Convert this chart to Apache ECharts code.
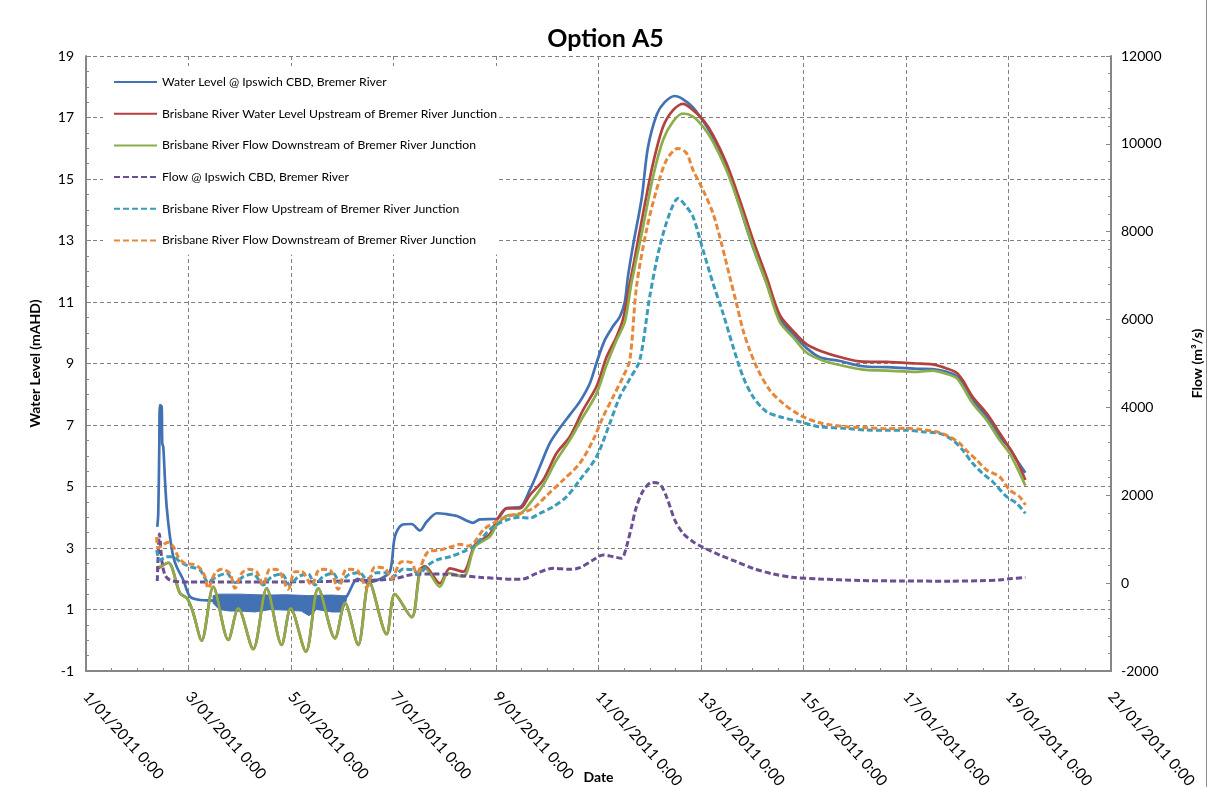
<!DOCTYPE html>
<html>
<head>
<meta charset="utf-8">
<script src="https://cdn.jsdelivr.net/npm/echarts@6/dist/echarts.min.js"></script>
<style>
html,body{margin:0;padding:0;background:#fff;}
#c{width:1211px;height:787px;position:relative;}
#frame{position:absolute;left:1206px;top:0;width:1px;height:787px;background:#8c8c8c;}
</style>
</head>
<body>
<div id="c"></div>
<div id="frame"></div>
<script>
// ---- chart text ----
const chartTitle = 'Option A5';
const xAxisName = 'Date';
const leftAxisName = 'Water Level (mAHD)';
const rightAxisName = 'Flow (m\u00b3/s)';
// x positions are days after 1/01/2011 0:00
const dateLabels = ['1/01/2011 0:00','3/01/2011 0:00','5/01/2011 0:00','7/01/2011 0:00','9/01/2011 0:00','11/01/2011 0:00','13/01/2011 0:00','15/01/2011 0:00','17/01/2011 0:00','19/01/2011 0:00','21/01/2011 0:00'];
const seriesNames = [
  'Water Level @ Ipswich CBD, Bremer River',
  'Brisbane River Water Level Upstream of Bremer River Junction',
  'Brisbane River Flow Downstream of Bremer River Junction',
  'Flow @ Ipswich CBD, Bremer River',
  'Brisbane River Flow Upstream of Bremer River Junction',
  'Brisbane River Flow Downstream of Bremer River Junction '
];

// ---- water levels (mAHD) ----
const ipswichLevel = [[1.391,3.69],[1.410,4.13],[1.430,6.29],[1.443,7.65],[1.476,7.6],[1.488,6.4],[1.508,6.29],[1.541,5.21],[1.574,4.34],[1.638,3.37],[1.703,2.72],[1.769,2.39],[1.898,1.96],[2.028,1.42],[2.224,1.31],[2.483,1.29],[2.7,1.25],[3.0,1.25],[3.5,1.25],[4.0,1.25],[4.5,1.25],[5.0,1.3],[5.085,1.42],[5.305,2.0],[5.475,1.87],[5.734,1.99],[5.929,2.23],[6.027,3.37],[6.158,3.75],[6.353,3.78],[6.514,3.57],[6.651,3.86],[6.846,4.13],[7.041,4.1],[7.236,4.04],[7.431,3.89],[7.548,3.82],[7.685,3.93],[8.016,3.95],[8.211,4.3],[8.465,4.33],[8.660,4.89],[8.855,5.64],[9.050,6.41],[9.245,6.9],[9.440,7.33],[9.635,7.76],[9.830,8.35],[9.967,9.05],[10.123,9.76],[10.279,10.2],[10.416,10.52],[10.513,11.0],[10.572,11.8],[10.670,12.8],[10.845,14.4],[10.962,16.0],[11.137,17.1],[11.293,17.5],[11.488,17.7],[11.644,17.6],[11.839,17.34],[12.034,16.9],[12.229,16.37],[12.502,15.4],[12.756,14.1],[13.009,12.8],[13.283,11.6],[13.536,10.45],[13.8,9.95],[14.063,9.5],[14.317,9.2],[14.707,9.08],[15.155,8.91],[15.623,8.88],[16.208,8.83],[16.520,8.82],[16.793,8.73],[16.988,8.59],[17.105,8.36],[17.300,7.81],[17.574,7.27],[17.827,6.62],[18.022,6.25],[18.159,5.86],[18.329,5.45]];
// noisy band of the Ipswich level (days 2.5 - 5.1)
const ipswichBandTime = [2.48,2.6,2.8,3.0,3.3,3.6,3.9,4.2,4.35,4.5,4.8,5.0,5.08];
const ipswichBandLow  = [1.2,1.0,0.95,0.95,0.92,1.0,0.98,0.95,0.8,1.0,0.92,0.92,1.3];
const ipswichBandHigh = [1.45,1.5,1.5,1.5,1.48,1.47,1.48,1.46,1.45,1.46,1.47,1.45,1.45];

const brisbaneUpLevel = [[1.379,2.3],[1.605,2.52],[1.833,1.53],[1.976,1.36],[2.093,0.88],[2.257,-0.01],[2.483,1.74],[2.776,0.01],[2.971,1.04],[3.263,-0.29],[3.525,1.69],[3.817,-0.15],[3.993,1.04],[4.291,-0.37],[4.531,1.69],[4.857,0.06],[5.052,1.22],[5.311,-0.15],[5.526,1.9],[5.865,0.2],[6.027,1.5],[6.353,0.75],[6.514,2.28],[6.612,2.4],[6.905,1.85],[7.100,2.34],[7.359,2.23],[7.587,3.1],[7.88,3.45],[8.016,3.91],[8.211,4.29],[8.465,4.29],[8.660,4.72],[8.920,5.21],[9.181,6.08],[9.440,6.62],[9.700,7.49],[9.961,8.25],[10.156,9.2],[10.351,9.87],[10.480,10.45],[10.611,11.61],[10.676,12.15],[10.870,13.88],[11.065,15.51],[11.260,16.7],[11.455,17.24],[11.650,17.44],[11.845,17.24],[12.040,16.92],[12.235,16.43],[12.497,15.51],[12.756,14.32],[13.015,13.02],[13.277,11.82],[13.536,10.58],[13.8,10.05],[14.063,9.62],[14.375,9.38],[14.707,9.21],[15.155,9.06],[15.623,9.05],[16.208,9.0],[16.520,8.97],[16.793,8.84],[16.988,8.7],[17.105,8.46],[17.300,7.92],[17.574,7.38],[17.827,6.74],[18.022,6.24],[18.159,5.86],[18.329,5.21]];

const brisbaneDownLevel = [[1.379,2.34],[1.605,2.52],[1.833,1.53],[1.976,1.36],[2.093,0.88],[2.257,-0.01],[2.483,1.74],[2.776,0.01],[2.971,1.04],[3.263,-0.29],[3.525,1.69],[3.817,-0.15],[3.993,1.04],[4.291,-0.37],[4.531,1.69],[4.857,0.06],[5.052,1.22],[5.311,-0.15],[5.526,1.9],[5.865,0.2],[6.027,1.5],[6.353,0.75],[6.514,2.18],[6.612,2.34],[6.905,1.74],[7.067,2.18],[7.359,2.07],[7.587,3.04],[7.880,3.37],[8.016,3.75],[8.211,4.05],[8.465,4.1],[8.660,4.45],[8.920,5.05],[9.181,5.86],[9.440,6.51],[9.700,7.27],[9.961,8.02],[10.156,8.95],[10.351,9.76],[10.513,10.35],[10.643,11.61],[10.870,13.45],[11.065,15.08],[11.260,16.27],[11.455,16.87],[11.650,17.13],[11.845,17.03],[12.040,16.7],[12.235,16.21],[12.497,15.29],[12.756,14.1],[13.015,12.8],[13.277,11.61],[13.536,10.35],[13.8,9.85],[14.063,9.35],[14.375,9.1],[14.707,8.95],[15.155,8.8],[15.623,8.77],[16.208,8.73],[16.520,8.77],[16.793,8.66],[16.988,8.52],[17.105,8.25],[17.300,7.71],[17.574,7.16],[17.827,6.51],[18.022,6.08],[18.159,5.64],[18.329,5.03]];

// ---- flows (m3/s) ----
const ipswichFlow = [[1.391,50],[1.433,1120],[1.482,500],[1.541,185],[1.638,71],[1.833,30],[2.224,25],[3.199,25],[4.174,30],[5.091,50],[5.988,94],[6.384,200],[6.710,208],[7.035,200],[7.359,170],[7.685,132],[8.010,110],[8.334,87],[8.529,94],[8.791,223],[9.115,337],[9.440,315],[9.635,351],[9.895,526],[10.090,640],[10.285,602],[10.449,565],[10.546,829],[10.644,1284],[10.741,1740],[10.870,2100],[11.034,2290],[11.196,2256],[11.327,1967],[11.489,1437],[11.650,1134],[11.845,943],[12.040,815],[12.366,640],[12.692,488],[13.015,337],[13.406,208],[13.796,132],[14.317,94],[15.097,60],[15.877,50],[16.852,45],[17.437,55],[17.827,71],[18.022,100],[18.329,130]];

const brisbaneUpFlow = [[1.379,754],[1.443,526],[1.574,602],[1.703,602],[1.833,488],[2.028,374],[2.224,299],[2.383,33],[2.549,147],[2.744,223],[2.906,10],[3.068,147],[3.263,208],[3.458,-42],[3.622,147],[3.817,208],[3.979,-42],[4.141,147],[4.336,208],[4.467,-42],[4.628,150],[4.823,223],[4.954,10],[5.116,185],[5.344,237],[5.475,87],[5.670,237],[5.865,237],[5.994,147],[6.189,320],[6.384,299],[6.481,210],[6.676,412],[6.840,526],[7.100,602],[7.359,715],[7.554,829],[7.749,1057],[7.944,1284],[8.206,1437],[8.465,1498],[8.660,1480],[8.855,1589],[9.115,1740],[9.376,1967],[9.635,2347],[9.961,2878],[10.220,3637],[10.416,4243],[10.611,4650],[10.806,5078],[10.999,6519],[11.194,7657],[11.389,8417],[11.552,8758],[11.716,8568],[11.845,8340],[12.040,7582],[12.235,6824],[12.430,6141],[12.626,5381],[12.820,4699],[13.015,4243],[13.277,3902],[13.536,3788],[13.926,3674],[14.317,3560],[14.837,3522],[15.233,3485],[15.623,3480],[16.013,3480],[16.325,3447],[16.657,3409],[16.910,3257],[17.105,3030],[17.300,2727],[17.495,2500],[17.691,2309],[17.964,1967],[18.159,1817],[18.329,1589]];

const brisbaneDownFlow = [[1.379,1050],[1.410,800],[1.508,880],[1.605,930],[1.703,830],[1.800,600],[1.931,450],[2.093,427],[2.224,340],[2.321,147],[2.383,-118],[2.516,223],[2.647,315],[2.809,223],[2.906,-118],[3.037,223],[3.166,315],[3.330,260],[3.458,-42],[3.589,315],[3.751,299],[3.946,-140],[4.076,260],[4.207,260],[4.402,-42],[4.564,315],[4.759,299],[4.921,-140],[5.085,315],[5.280,300],[5.475,-96],[5.637,360],[5.832,337],[5.963,100],[6.158,488],[6.353,465],[6.450,223],[6.676,715],[6.905,754],[7.133,829],[7.295,883],[7.457,845],[7.587,943],[7.749,1209],[7.944,1361],[8.206,1512],[8.465,1589],[8.725,1703],[8.986,1990],[9.310,2347],[9.635,2727],[9.895,3258],[10.090,3788],[10.285,4243],[10.480,4700],[10.611,5078],[10.741,6747],[10.936,8037],[11.131,8948],[11.326,9630],[11.552,9896],[11.716,9790],[11.845,9403],[12.040,8948],[12.235,8417],[12.399,7734],[12.561,6975],[12.692,6368],[12.820,5761],[12.951,5306],[13.113,4851],[13.341,4396],[13.601,4093],[13.926,3827],[14.317,3650],[14.837,3560],[15.233,3538],[15.623,3515],[16.013,3524],[16.267,3501],[16.598,3447],[16.852,3333],[17.047,3182],[17.203,2991],[17.379,2802],[17.574,2575],[17.827,2422],[18.022,2120],[18.217,1967],[18.329,1778]];

// ---- styling ----
const FONT = 'Lato, "Open Sans", sans-serif';
const colors = ['#4271B4', '#B3413D', '#8BAE4A', '#6B4F93', '#3A9CB9', '#E7873A'];
const axisGrey = '#868686';
const gridLine = { show: true, lineStyle: { color: '#808080', width: 1, type: [4, 3] } };

const bandData = ipswichBandTime.map((t, i) => [t, ipswichBandLow[i], ipswichBandHigh[i]]);

function solid(name, data, color) {
  return { name, type: 'line', yAxisIndex: 0, data, symbol: 'none', smooth: 0.3,
    lineStyle: { color, width: 2.7 }, itemStyle: { color } };
}
function dashed(name, data, color) {
  return { name, type: 'line', yAxisIndex: 1, data, symbol: 'none', smooth: 0.3,
    lineStyle: { color, width: 3, type: [6, 3] }, itemStyle: { color } };
}

const chart = echarts.init(document.getElementById('c'), null, { renderer: 'canvas' });
chart.setOption({
  animation: false,
  backgroundColor: '#fff',
  title: { text: chartTitle, left: 'center', top: 21,
    textStyle: { fontFamily: FONT, fontSize: 25, fontWeight: 'bold', color: '#000' } },
  legend: { data: seriesNames, orient: 'vertical', left: 103, top: 66,
    padding: [10, 2, 8, 10], backgroundColor: '#fff',
    itemWidth: 43, itemHeight: 14, itemGap: 19.7,
    itemStyle: { opacity: 0 },
    textStyle: { fontFamily: FONT, fontSize: 12.2, color: '#000' } },
  grid: { left: 86, right: 100, top: 56, bottom: 116, containLabel: false, outerBoundsMode: 'none' },
  xAxis: {
    type: 'value', min: 0, max: 20, interval: 2,
    name: xAxisName, nameLocation: 'middle', nameGap: 99, nameMoveOverlap: false,
    nameTextStyle: { fontFamily: FONT, fontSize: 14, fontWeight: 'bold', color: '#000' },
    axisLine: { show: true, onZero: false, lineStyle: { color: axisGrey, width: 2 } },
    axisTick: { show: true, inside: true, length: 5, lineStyle: { color: axisGrey } },
    minorTick: { show: true, splitNumber: 4, length: 3, lineStyle: { color: axisGrey } },
    axisLabel: { rotate: -48, margin: 23, fontFamily: FONT, fontSize: 15.5, color: '#000',
      formatter: v => dateLabels[Math.round(v / 2)] },
    splitLine: gridLine
  },
  yAxis: [
    { type: 'value', min: -1, max: 19, interval: 2, position: 'left',
      name: leftAxisName, nameLocation: 'middle', nameGap: 44, nameRotate: 90, nameMoveOverlap: false,
      nameTextStyle: { fontFamily: FONT, fontSize: 14, fontWeight: 'bold', color: '#000' },
      axisLine: { show: true, lineStyle: { color: axisGrey, width: 2 } },
      axisTick: { show: true, inside: true, length: 5, lineStyle: { color: axisGrey } },
      minorTick: { show: true, splitNumber: 4, length: 3, lineStyle: { color: axisGrey } },
      axisLabel: { margin: 12, fontFamily: FONT, fontSize: 14, color: '#000' },
      splitLine: gridLine },
    { type: 'value', min: -2000, max: 12000, interval: 2000, position: 'right',
      name: rightAxisName, nameLocation: 'middle', nameGap: 79, nameRotate: 90, nameMoveOverlap: false,
      nameTextStyle: { fontFamily: FONT, fontSize: 14, fontWeight: 'bold', color: '#000' },
      axisLine: { show: true, lineStyle: { color: axisGrey, width: 2 } },
      axisTick: { show: true, inside: true, length: 5, lineStyle: { color: axisGrey } },
      minorTick: { show: true, splitNumber: 5, length: 3, lineStyle: { color: axisGrey } },
      axisLabel: { margin: 10, fontFamily: FONT, fontSize: 14, color: '#000', formatter: v => String(v) },
      splitLine: { show: false } }
  ],
  series: [
    { name: 'ipswichBand', type: 'custom', yAxisIndex: 0, data: bandData, silent: true,
      encode: { x: 0, y: [1, 2] },
      renderItem: (params, api) => {
        if (params.dataIndex !== 0) return { type: 'group', children: [] };
        const lower = bandData.map(d => api.coord([d[0], d[1]]));
        const upper = bandData.map(d => api.coord([d[0], d[2]])).reverse();
        return { type: 'polygon', shape: { points: lower.concat(upper) },
          style: { fill: colors[0], stroke: colors[0], lineWidth: 1 } };
      } },
    solid(seriesNames[0], ipswichLevel, colors[0]),
    solid(seriesNames[1], brisbaneUpLevel, colors[1]),
    solid(seriesNames[2], brisbaneDownLevel, colors[2]),
    dashed(seriesNames[3], ipswichFlow, colors[3]),
    dashed(seriesNames[4], brisbaneUpFlow, colors[4]),
    dashed(seriesNames[5], brisbaneDownFlow, colors[5])
  ]
});
</script>
</body>
</html>
